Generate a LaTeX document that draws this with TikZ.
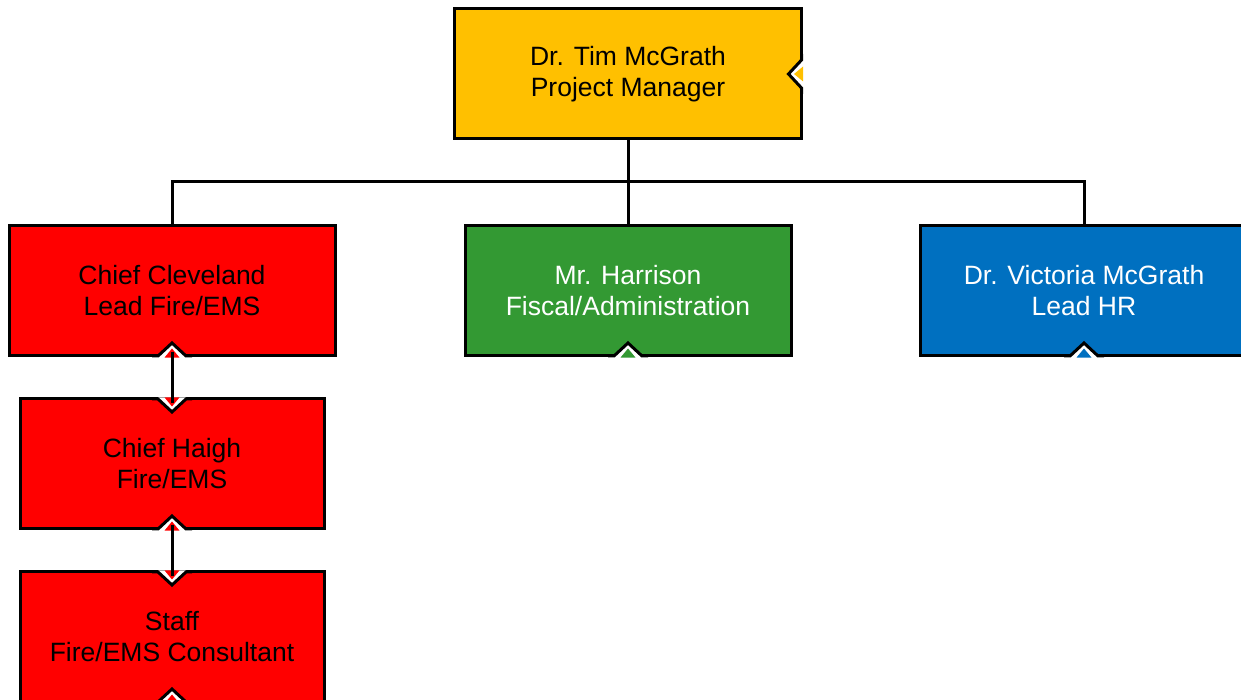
\documentclass[tikz,border=0pt]{standalone}
\usepackage{fontspec}
\setmainfont{Liberation Sans}
\definecolor{fyellow}{HTML}{FFC000}
\definecolor{fred}{HTML}{FF0000}
\definecolor{fgreen}{HTML}{339933}
\definecolor{fblue}{HTML}{0070C0}
\tikzset{
  box/.style={draw=black,line width=3pt,minimum height=130pt,align=center,
    inner sep=0pt,outer sep=0pt,font=\fontsize{26.5}{31}\selectfont},
  conn/.style={draw=black,line width=3pt},
  notch/.pic={
    \fill[white] (-14,-1.6) -- (-14,0) -- (0,13) -- (14,0) -- (14,-1.6) -- cycle;
    \draw[line width=3pt,line join=miter] (-20,0) -- (-14,0) -- (0,13) -- (14,0) -- (20,0);
    \fill[#1] (-7.5,-1.6) -- (0,7.5) -- (7.5,-1.6) -- cycle;
  }
}
\begin{document}
\begin{tikzpicture}[x=1pt,y=1pt]
  \useasboundingbox (0,0) rectangle (1241,700);
  % boxes
  \node[box,fill=fyellow,minimum width=347pt] (pm) at (628,626) {Dr. Tim McGrath\\Project Manager};
  \node[box,fill=fred,minimum width=326pt] (clev) at (172,409) {Chief Cleveland\\Lead Fire/EMS};
  \node[box,fill=fgreen,minimum width=326pt,text=white] (harr) at (628,409) {Mr. Harrison\\Fiscal/Administration};
  \node[box,fill=fblue,minimum width=328pt,text=white] (vic) at (1084,409) {Dr. Victoria McGrath\\Lead HR};
  \node[box,fill=fred,minimum width=304pt] (haigh) at (172,236) {Chief Haigh\\Fire/EMS};
  \node[box,fill=fred,minimum width=304pt] (staff) at (172,63) {Staff\\Fire/EMS Consultant};
  % notches
  \pic[rotate=90] at (pm.east) {notch=fyellow};
  \pic at (clev.south) {notch=fred};
  \pic at (harr.south) {notch=fgreen};
  \pic at (vic.south) {notch=fblue};
  \pic[rotate=180] at (haigh.north) {notch=fred};
  \pic at (haigh.south) {notch=fred};
  \pic[rotate=180] at (staff.north) {notch=fred};
  \pic at (staff.south) {notch=fred};
  % connectors
  \draw[conn] (pm.south) -- ++(0,-43) -| (clev.north);
  \draw[conn] (pm.south) -- ++(0,-43) -| (vic.north);
  \draw[conn] (pm.south) -- (harr.north);
  \draw[conn,shorten <=-4pt,shorten >=-4pt] (clev.south) -- (haigh.north);
  \draw[conn,shorten <=-4pt,shorten >=-4pt] (haigh.south) -- (staff.north);
\end{tikzpicture}
\end{document}
